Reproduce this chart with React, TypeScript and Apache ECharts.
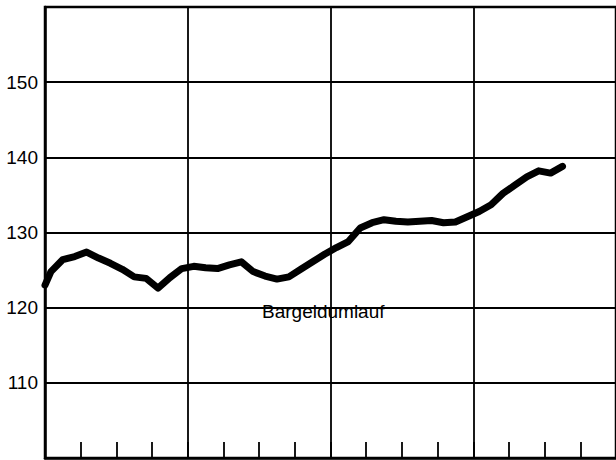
import React, { useEffect, useRef } from "react";
import * as echarts from "echarts";

// Start value at the left axis, then one value per month (mid-month)
const startValue = 123.0;
const monthlyValues = [
  124.8, 126.4, 126.8, 127.4, 126.6, 125.9, 125.1, 124.1, 123.9, 122.6, 124.0, 125.2,
  125.5, 125.3, 125.2, 125.7, 126.1, 124.8, 124.2, 123.8, 124.1, 125.1, 126.1, 127.1,
  128.0, 128.8, 130.6, 131.3, 131.7, 131.5, 131.4, 131.5, 131.6, 131.3, 131.4, 132.1,
  132.8, 133.7, 135.2, 136.3, 137.4, 138.2, 137.9, 138.8,
];
const seriesLabel = "Bargeldumlauf";
const yMin = 100;
const yMax = 160;
const yStep = 10;
const monthsShown = 48;
const monthsPerYear = 12;
const monthsPerQuarter = 3;

const FONT = "'Liberation Sans', Arial, Helvetica, sans-serif";

export default function App() {
  const ref = useRef<HTMLDivElement>(null);
  useEffect(() => {
    if (!ref.current) return;
    const chart = echarts.init(ref.current, null, { renderer: "svg" });
    const data: [number, number][] = [[0, startValue]];
    monthlyValues.forEach((v, i) => data.push([i + 0.5, v]));
    chart.setOption({
      animation: false,
      backgroundColor: "#fff",
      grid: {
        left: 45,
        top: 7,
        right: -2,
        bottom: 2,
        show: true,
        borderColor: "#000",
        borderWidth: 2.5,
        containLabel: false,
      },
      xAxis: [
        {
          type: "value",
          min: 0,
          max: monthsShown,
          interval: monthsPerYear,
          position: "bottom",
          axisLine: { show: true, lineStyle: { color: "#000", width: 2.5 } },
          axisTick: { show: false },
          axisLabel: { show: false },
          splitLine: { show: true, lineStyle: { color: "#000", width: 1.8 } },
        },
        {
          type: "value",
          min: 0,
          max: monthsShown,
          interval: monthsPerQuarter,
          position: "bottom",
          axisLine: { show: false },
          axisTick: { show: true, inside: true, length: 16, lineStyle: { color: "#000", width: 1.8 } },
          axisLabel: { show: false },
          splitLine: { show: false },
        },
      ],
      yAxis: {
        type: "value",
        min: yMin,
        max: yMax,
        interval: yStep,
        axisLine: { show: true, lineStyle: { color: "#000", width: 2.5 } },
        axisTick: { show: false },
        axisLabel: {
          showMinLabel: false,
          showMaxLabel: false,
          color: "#000",
          fontSize: 19,
          fontFamily: FONT,
          margin: 7,
        },
        splitLine: { show: true, lineStyle: { color: "#000", width: 1.8 } },
      },
      graphic: [
        {
          type: "text",
          left: 262,
          top: 302,
          style: { text: seriesLabel, fontSize: 19, fontFamily: FONT, fill: "#000" },
        },
      ],
      series: [
        {
          type: "line",
          xAxisIndex: 0,
          data,
          symbol: "none",
          lineStyle: { color: "#000", width: 7, cap: "round", join: "round" },
        },
      ],
    });
    return () => chart.dispose();
  }, []);
  return (
    <div
      ref={ref}
      style={{ position: "absolute", left: 0, top: 0, width: 616, height: 460 }}
    />
  );
}
